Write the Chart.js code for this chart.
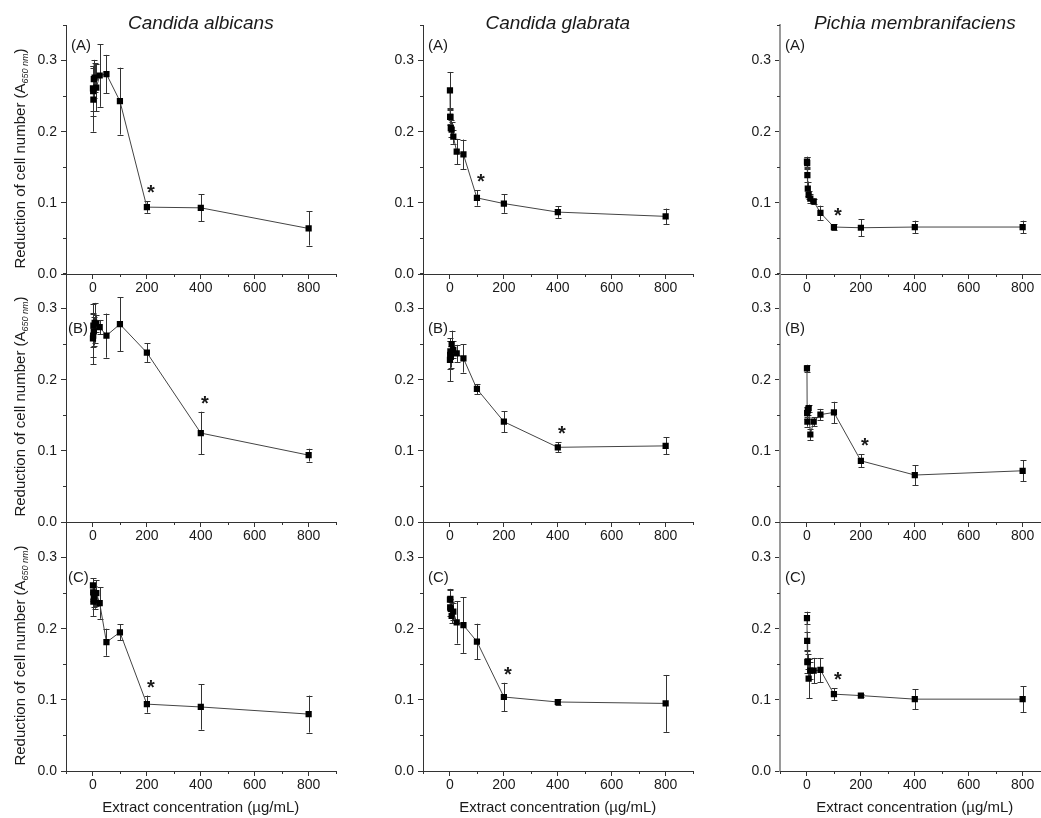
<!DOCTYPE html>
<html>
<head>
<meta charset="utf-8">
<script src="https://cdn.jsdelivr.net/npm/chart.js@4"></script>
<style>
  body { margin: 0; background: #fff; width: 1041px; height: 818px; overflow: hidden; position: relative; }
  canvas { position: absolute; }
</style>
</head>
<body>
<script>
// concentraciones del extracto (µg/mL)
const concentrations = [0, 0.78, 1.56, 3.125, 6.25, 12.5, 25, 50, 100, 200, 400, 800];

const species = ['Candida albicans', 'Candida glabrata', 'Pichia membranifaciens'];
const panels = ['(A)', '(B)', '(C)'];

// fila A
const albicansA = [0.261, 0.257, 0.245, 0.274, 0.276, 0.262, 0.279, 0.281, 0.243, 0.094, 0.093, 0.064];
const albicansAErr = [0.032, 0.035, 0.045, 0.027, 0.02, 0.033, 0.044, 0.027, 0.047, 0.008, 0.019, 0.024];
const glabrataA = [0.258, 0.221, 0.221, 0.205, 0.203, 0.193, 0.172, 0.168, 0.107, 0.099, 0.087, 0.081];
const glabrataAErr = [0.026, 0.012, 0.01, 0.012, 0.01, 0.01, 0.018, 0.021, 0.011, 0.013, 0.008, 0.011];
const pichiaA = [0.158, 0.156, 0.139, 0.12, 0.111, 0.106, 0.102, 0.086, 0.066, 0.065, 0.066, 0.066];
const pichiaAErr = [0.007, 0.008, 0.01, 0.01, 0.006, 0.006, 0.004, 0.01, 0.004, 0.012, 0.009, 0.009];

// fila B
const albicansB = [0.258, 0.262, 0.276, 0.268, 0.28, 0.279, 0.274, 0.262, 0.278, 0.238, 0.125, 0.094];
const albicansBErr = [0.036, 0.03, 0.03, 0.02, 0.028, 0.012, 0.01, 0.031, 0.038, 0.013, 0.03, 0.009];
const glabrataB = [0.228, 0.235, 0.24, 0.232, 0.25, 0.242, 0.237, 0.23, 0.187, 0.141, 0.105, 0.107];
const glabrataBErr = [0.03, 0.02, 0.015, 0.015, 0.019, 0.012, 0.012, 0.02, 0.007, 0.015, 0.007, 0.012];
const pichiaB = [0.216, 0.153, 0.141, 0.157, 0.16, 0.123, 0.141, 0.151, 0.154, 0.086, 0.066, 0.072];
const pichiaBErr = [0.005, 0.008, 0.007, 0.006, 0.005, 0.008, 0.006, 0.008, 0.015, 0.009, 0.014, 0.015];

// fila C
const albicansC = [0.261, 0.251, 0.238, 0.245, 0.24, 0.25, 0.236, 0.181, 0.195, 0.094, 0.09, 0.08];
const albicansCErr = [0.01, 0.012, 0.02, 0.015, 0.012, 0.018, 0.022, 0.019, 0.011, 0.012, 0.032, 0.026];
const glabrataC = [0.241, 0.23, 0.242, 0.228, 0.218, 0.224, 0.209, 0.205, 0.182, 0.104, 0.097, 0.095];
const glabrataCErr = [0.015, 0.012, 0.013, 0.01, 0.01, 0.012, 0.03, 0.039, 0.025, 0.02, 0.004, 0.04];
const pichiaC = [0.215, 0.183, 0.153, 0.154, 0.13, 0.141, 0.141, 0.142, 0.108, 0.106, 0.101, 0.101];
const pichiaCErr = [0.009, 0.013, 0.015, 0.01, 0.028, 0.012, 0.018, 0.017, 0.008, 0.002, 0.014, 0.018];

// concentración marcada con * (por especie, filas A-C)
const starAlbicans = [200, 400, 200];
const starGlabrata = [100, 400, 200];
const starPichia = [100, 200, 100];

const xTickLabels = [0, 200, 400, 600, 800];
const yTickLabels = [0.0, 0.1, 0.2, 0.3];

const grid = [
  [[albicansA, albicansAErr], [glabrataA, glabrataAErr], [pichiaA, pichiaAErr]],
  [[albicansB, albicansBErr], [glabrataB, glabrataBErr], [pichiaB, pichiaBErr]],
  [[albicansC, albicansCErr], [glabrataC, glabrataCErr], [pichiaC, pichiaCErr]]
];
const stars = [starAlbicans, starGlabrata, starPichia];

Chart.defaults.font.family = "'Liberation Sans', Arial, sans-serif";
Chart.defaults.color = '#1a1a1a';

const plotLeft = [66, 423, 780];
const plotTop = [25, 273, 522];
const PLOT_W = 270, PLOT_H = 249;
const TXT = '#1a1a1a';

// solo las marcas con etiqueta van con tick largo
const majorTick = c => (c.tick && c.tick.label !== '') ? '#333' : 'rgba(0,0,0,0)';

const extras = {
  id: 'extras',
  beforeDatasetsDraw(chart, args, o) {
    const { ctx, chartArea: a, scales: { x, y } } = chart;
    ctx.save();
    ctx.strokeStyle = '#333';
    ctx.lineWidth = 1;
    // ticks menores (cortos)
    ctx.beginPath();
    x.ticks.forEach(t => {
      if (t.label !== '') return;
      const px = Math.round(x.getPixelForValue(t.value)) + 0.5;
      ctx.moveTo(px, a.bottom); ctx.lineTo(px, a.bottom + 3);
    });
    y.ticks.forEach(t => {
      if (t.label !== '') return;
      const py = Math.round(y.getPixelForValue(t.value)) + 0.5;
      ctx.moveTo(a.left, py); ctx.lineTo(a.left - 3, py);
    });
    ctx.stroke();
    // barras de error
    o.values.forEach((v, i) => {
      const px = Math.round(x.getPixelForValue(concentrations[i])) + 0.5;
      const top = y.getPixelForValue(v + o.errors[i]);
      const bot = y.getPixelForValue(v - o.errors[i]);
      ctx.beginPath();
      ctx.moveTo(px, top); ctx.lineTo(px, bot);
      ctx.moveTo(px - 3, Math.round(top) + 0.5); ctx.lineTo(px + 3, Math.round(top) + 0.5);
      ctx.moveTo(px - 3, Math.round(bot) + 0.5); ctx.lineTo(px + 3, Math.round(bot) + 0.5);
      ctx.stroke();
    });
    ctx.restore();
  },
  afterDatasetsDraw(chart, args, o) {
    const { ctx, chartArea: a, scales: { x, y } } = chart;
    ctx.save();
    ctx.fillStyle = TXT;

    // asterisco
    const i = concentrations.indexOf(o.star);
    ctx.font = "bold 20px 'Liberation Sans', Arial";
    ctx.textAlign = 'center';
    ctx.textBaseline = 'alphabetic';
    ctx.fillText('*', x.getPixelForValue(o.star) + 4, y.getPixelForValue(o.values[i] + o.errors[i]) - 2);

    // etiqueta del panel
    ctx.font = "15px 'Liberation Sans', Arial";
    ctx.textAlign = 'left';
    ctx.textBaseline = 'middle';
    ctx.fillText(o.panel, a.left + (o.col === 0 && o.row > 0 ? 2 : 5), y.getPixelForValue(o.row === 0 ? 0.32 : 0.271));

    // título de la especie
    if (o.row === 0) {
      ctx.font = "italic 19px 'Liberation Sans', Arial";
      ctx.textAlign = 'center';
      ctx.textBaseline = 'alphabetic';
      ctx.fillText(o.title, (a.left + a.right) / 2, a.top + 4);
    }
    // título eje x
    if (o.row === 2) {
      ctx.font = "15px 'Liberation Sans', Arial";
      ctx.textAlign = 'center';
      ctx.textBaseline = 'middle';
      ctx.fillText('Extract concentration (µg/mL)', (a.left + a.right) / 2, a.bottom + 37);
    }
    // título eje y con subíndice
    if (o.col === 0) {
      const main = 'Reduction of cell number (A', sub = '650 nm', close = ')';
      ctx.translate(20, (a.top + a.bottom) / 2 + 9);
      ctx.rotate(-Math.PI / 2);
      ctx.textAlign = 'left';
      ctx.textBaseline = 'alphabetic';
      ctx.font = "15px 'Liberation Sans', Arial";
      const w1 = ctx.measureText(main).width, w3 = ctx.measureText(close).width;
      ctx.font = "italic 9px 'Liberation Sans', Arial";
      const w2 = ctx.measureText(sub).width;
      let sx = -(w1 + w2 + w3) / 2;
      ctx.font = "15px 'Liberation Sans', Arial";
      ctx.fillText(main, sx, 5);
      sx += w1;
      ctx.font = "italic 9px 'Liberation Sans', Arial";
      ctx.fillText(sub, sx, 8);
      sx += w2;
      ctx.font = "15px 'Liberation Sans', Arial";
      ctx.fillText(close, sx, 5);
    }
    ctx.restore();
  }
};

for (let r = 0; r < 3; r++) {
  for (let c = 0; c < 3; c++) {
    const [values, errors] = grid[r][c];
    const h = 25 + PLOT_H + (r === 2 ? 48 : 32);
    const cv = document.createElement('canvas');
    cv.width = 66 + PLOT_W + 4;
    cv.height = h;
    cv.style.left = (plotLeft[c] - 66) + 'px';
    cv.style.top = (plotTop[r] - 25) + 'px';
    document.body.appendChild(cv);

    const axisColor = c === 2 ? '#9a9a9a' : '#333';
    new Chart(cv.getContext('2d'), {
      type: 'line',
      data: {
        datasets: [{
          data: concentrations.map((xv, i) => ({ x: xv, y: values[i] })),
          borderColor: '#444',
          borderWidth: 1,
          tension: 0,
          pointStyle: 'rect',
          pointRadius: 4.4,
          pointBorderWidth: 0,
          pointBackgroundColor: '#000'
        }]
      },
      options: {
        responsive: false,
        animation: false,
        devicePixelRatio: 1,
        layout: { padding: { top: 25, right: 4, left: 0, bottom: 0 } },
        plugins: {
          legend: { display: false },
          tooltip: { enabled: false },
          extras: { values, errors, star: stars[c][r], panel: panels[r], title: species[c], row: r, col: c }
        },
        scales: {
          x: {
            type: 'linear',
            min: -100, max: 900,
            afterFit: s => { s.height = h - 25 - PLOT_H; },
            border: { color: '#333', width: 1 },
            grid: { drawOnChartArea: false, tickLength: 5, tickColor: majorTick },
            ticks: {
              stepSize: 100, autoSkip: false, maxRotation: 0, padding: 1,
              font: { size: 14 }, color: TXT,
              callback: v => xTickLabels.includes(Math.round(v)) ? String(Math.round(v)) : ''
            }
          },
          y: {
            min: 0, max: 0.35,
            afterFit: s => { s.width = 66; },
            border: { color: axisColor, width: c === 2 ? 2 : 1 },
            grid: { drawOnChartArea: false, tickLength: 5, tickColor: majorTick },
            ticks: {
              stepSize: 0.05, autoSkip: false, padding: 4,
              font: { size: 14 }, color: TXT,
              callback: v => {
                const k = Math.round(v * 100) / 100;
                return yTickLabels.includes(k) ? k.toFixed(1) : '';
              }
            }
          }
        }
      },
      plugins: [extras]
    });
  }
}
</script>
</body>
</html>
